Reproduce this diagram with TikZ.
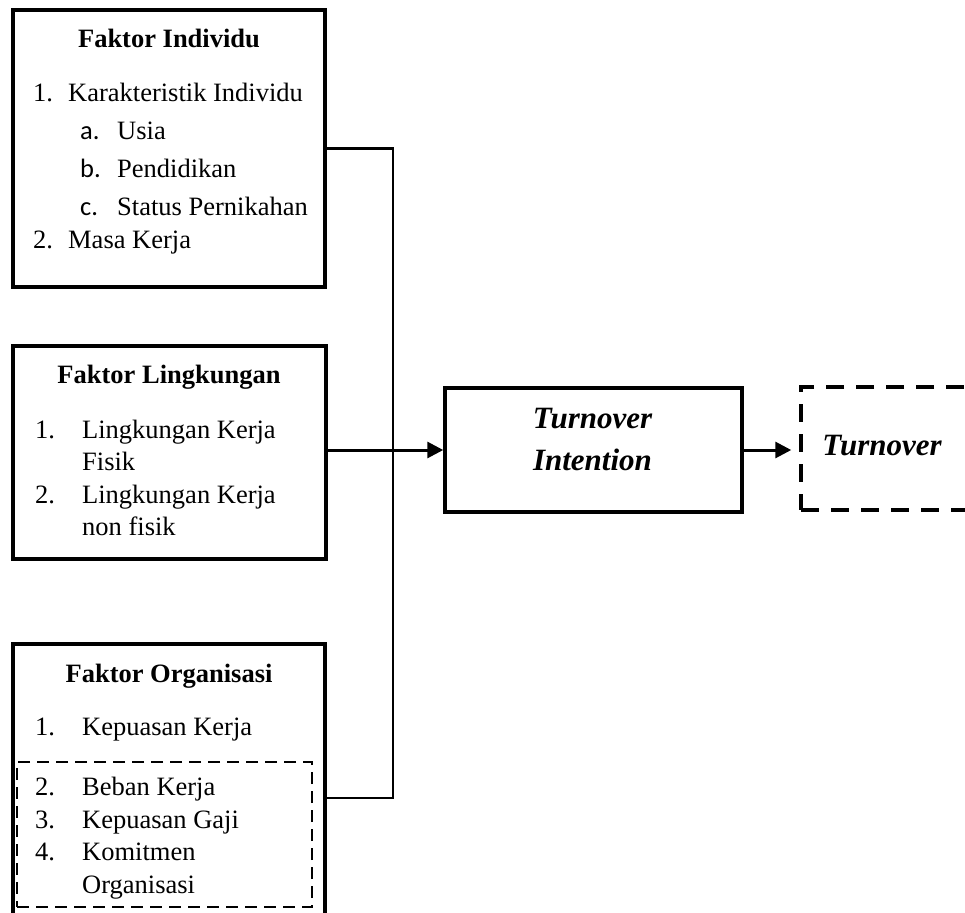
\documentclass[tikz,border=0pt]{standalone}
\usepackage{fontspec}
\setmainfont{Liberation Serif}
\newfontfamily\letterfont{Carlito}
\usetikzlibrary{arrows.meta}
\tikzset{
  factorbox/.style={draw, line width=3.5pt, inner sep=0pt},
  item/.style={anchor=base west, inner sep=0pt, font=\fontsize{26.5}{32}\selectfont},
  head/.style={anchor=base, inner sep=0pt, font=\fontsize{26.5}{32}\selectfont\bfseries},
  result/.style={anchor=base, inner sep=0pt, font=\fontsize{31}{36}\selectfont\bfseries\itshape},
  link/.style={line width=2.2pt},
  flow/.style={line width=3pt, -{Triangle[length=16pt,width=16pt]}},
}
\begin{document}
\begin{tikzpicture}[x=1pt,y=-1pt]
\clip (0,0) rectangle (965,912);
% Faktor Individu
\node[factorbox, minimum width=312pt, minimum height=277pt] (ind) at (169,148.5) {};
\node[head] (indhead) at (169,48) {Faktor Individu};
\node[item] (ind1) at (33,102) {\makebox[35pt][l]{1.}Karakteristik Individu};
\node[item] (inda) at (80,140) {\makebox[37pt][l]{\letterfont a.}Usia};
\node[item] (indb) at (80,178) {\makebox[37pt][l]{\letterfont b.}Pendidikan};
\node[item] (indc) at (80,215) {\makebox[37pt][l]{\letterfont c.}Status Pernikahan};
\node[item] (ind2) at (33,248) {\makebox[35pt][l]{2.}Masa Kerja};

% Faktor Lingkungan
\node[factorbox, minimum width=313pt, minimum height=213pt] (env) at (169.5,452.5) {};
\node[head] (envhead) at (169,383) {Faktor Lingkungan};
\node[item] (env1) at (35,438) {\makebox[47pt][l]{1.}Lingkungan Kerja};
\node[item] (env1b) at (82,470) {Fisik};
\node[item] (env2) at (35,503) {\makebox[47pt][l]{2.}Lingkungan Kerja};
\node[item] (env2b) at (82,535) {non fisik};

% Faktor Organisasi (lower edge runs off the page)
\node[factorbox, minimum width=312pt, minimum height=290pt] (org) at (169,789) {};
\node[head] (orghead) at (169,682) {Faktor Organisasi};
\node[item] (org1) at (35,735) {\makebox[47pt][l]{1.}Kepuasan Kerja};
\node[draw, line width=1.7pt, dash pattern=on 12pt off 7pt, inner sep=0pt,
      minimum width=295pt, minimum height=145pt] (orgrest) at (164.5,834.5) {};
\node[item] (org2) at (35,795) {\makebox[47pt][l]{2.}Beban Kerja};
\node[item] (org3) at (35,828) {\makebox[47pt][l]{3.}Kepuasan Gaji};
\node[item] (org4) at (35,860) {\makebox[47pt][l]{4.}Komitmen};
\node[item] (org4b) at (82,893) {Organisasi};

% Turnover Intention
\node[factorbox, minimum width=297pt, minimum height=124pt] (ti) at (593.5,450) {};
\node[result] (tiline1) at (592.5,428) {Turnover};
\node[result] (tiline2) at (592.5,470) {Intention};

% Turnover (right edge runs off the page)
\node[draw, line width=3.5pt, dash pattern=on 18pt off 12pt, inner sep=0pt,
      minimum width=200pt, minimum height=123pt] (to) at (901,448.5) {};
\node[result] (toline) at (882,455) {Turnover};

% Connectors
\coordinate (spine) at (393,450);
\coordinate (orgout) at (org.east |- 0,798);
\draw[link] (ind.east) -| (spine) |- (orgout);
\draw[flow] (env.east |- ti.west) -- (ti.west);
\draw[flow, shorten >=8pt] (ti.east) -- (ti.east -| to.west);
\end{tikzpicture}
\end{document}
